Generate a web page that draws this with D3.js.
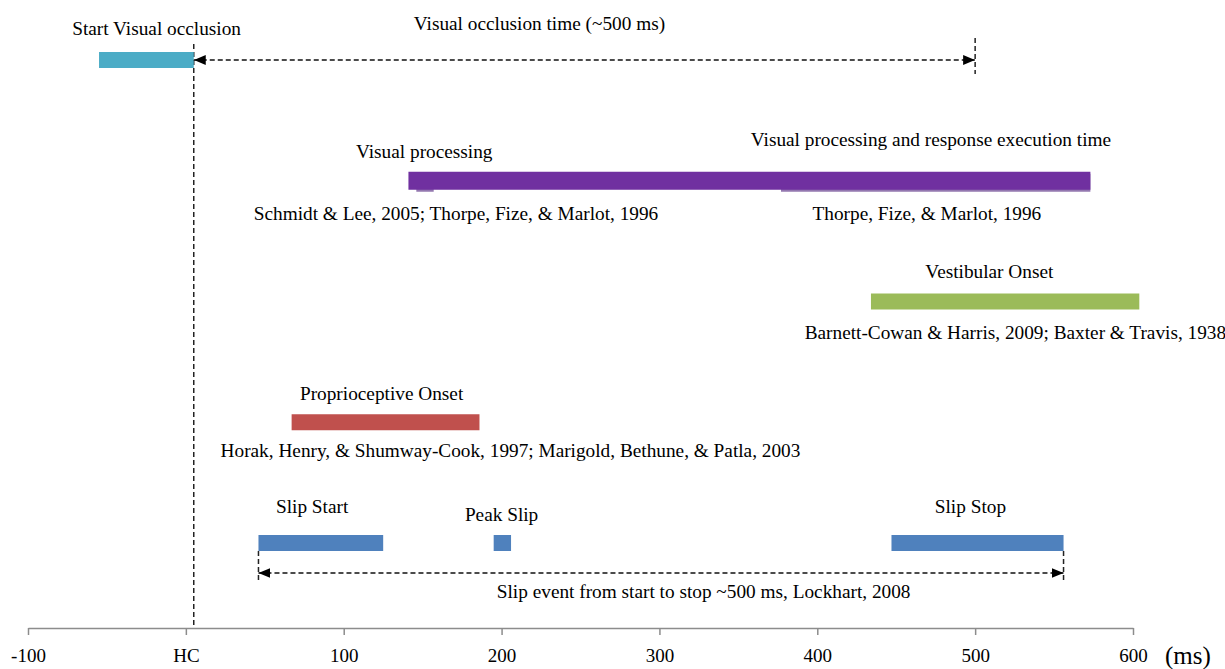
<!DOCTYPE html>
<html>
<head>
<meta charset="utf-8">
<script src="https://cdn.jsdelivr.net/npm/d3@7"></script>
<style>
  body { margin: 0; background: #fff; }
  svg { display: block; }
  svg text { font-family: "Liberation Serif", "Times New Roman", serif; }
</style>
</head>
<body>
<svg id="chart" width="1225" height="669"></svg>
<script>
// rows of the timeline, top to bottom
const rows = ["occlusion", "visual", "vestibular", "proprio", "slip"];

// bars: [row, start ms, end ms, colour key]
const bars = [
  ["occlusion", -55, 5, "cyan"],
  ["visual", 141, 573, "purple"],
  ["vestibular", 434, 604, "green"],
  ["proprio", 67, 186, "red"],
  ["slip", 46, 125, "blue"],
  ["slip", 195, 206, "blue"],
  ["slip", 447, 556, "blue"]
];
// the second (shadow) purple bar that peeks out below the first one
const shadowBars = [
  ["visual", 146, 157],
  ["visual", 377, 573]
];

// dashed double arrows: [row, from ms, to ms]
const spans = [
  ["occlusion", 5, 500],
  ["slip", 46, 556]
];

const tickValues = [-100, 0, 100, 200, 300, 400, 500, 600];
const tickLabels = ["-100", "HC", "100", "200", "300", "400", "500", "600"];

const labelTexts = [
  "Start Visual occlusion",
  "Visual occlusion time (~500 ms)",
  "Visual processing",
  "Visual processing and response execution time",
  "Schmidt & Lee, 2005; Thorpe, Fize, & Marlot, 1996",
  "Thorpe, Fize, & Marlot, 1996",
  "Vestibular Onset",
  "Barnett-Cowan & Harris, 2009; Baxter & Travis, 1938",
  "Proprioceptive Onset",
  "Horak, Henry, & Shumway-Cook, 1997; Marigold, Bethune, & Patla, 2003",
  "Slip Start",
  "Peak Slip",
  "Slip Stop",
  "Slip event from start to stop ~500 ms, Lockhart, 2008"
];

const colors = {
  cyan: "#4bacc6",
  purple: "#7030a0",
  green: "#9bbb59",
  red: "#c0504d",
  blue: "#4f81bd"
};

const svg = d3.select("#chart");
const axisY = 628;

const x = d3.scaleLinear().domain([-100, 600]).range([28, 1133]);
const y = d3.scalePoint().domain(rows).range([60, 543]);

// dashed guide lines
const dash = "5,3";
function vline(ms, y1, y2) {
  svg.append("line")
    .attr("x1", x(ms)).attr("x2", x(ms))
    .attr("y1", y1).attr("y2", y2)
    .attr("stroke", "#222").attr("stroke-width", 1.5)
    .attr("stroke-dasharray", dash);
}
vline(5, 44, axisY - 2);
vline(500, 38, 74);
vline(46, y("slip") + 8, 582);
vline(556, y("slip") + 8, 582);

// shadow bars
svg.selectAll(".shadow")
  .data(shadowBars).join("rect")
  .attr("class", "shadow")
  .attr("x", d => x(d[1]))
  .attr("width", d => x(d[2]) - x(d[1]))
  .attr("y", d => y(d[0]) - 7)
  .attr("height", 18)
  .attr("fill", "#9478b0");

// bars
svg.selectAll(".bar")
  .data(bars).join("rect")
  .attr("class", "bar")
  .attr("x", d => x(d[1]))
  .attr("width", d => x(d[2]) - x(d[1]))
  .attr("y", d => y(d[0]) - (d[0] === "visual" ? 9 : 8))
  .attr("height", d => d[0] === "visual" ? 18 : 16)
  .attr("fill", d => colors[d[3]]);

// arrows
const defs = svg.append("defs");
["start", "end"].forEach(k => {
  defs.append("marker")
    .attr("id", "arrow-" + k)
    .attr("markerUnits", "userSpaceOnUse")
    .attr("viewBox", "0 0 12 12")
    .attr("refX", k === "end" ? 12 : 0).attr("refY", 6)
    .attr("markerWidth", 12).attr("markerHeight", 12)
    .attr("orient", "auto")
    .append("path")
    .attr("d", k === "end" ? "M0,1L12,6L0,11Z" : "M12,1L0,6L12,11Z")
    .attr("fill", "#000");
});
const spanY = { occlusion: y("occlusion"), slip: 573 };
svg.selectAll(".span")
  .data(spans).join("line")
  .attr("class", "span")
  .attr("x1", d => x(d[1])).attr("x2", d => x(d[2]))
  .attr("y1", d => spanY[d[0]]).attr("y2", d => spanY[d[0]])
  .attr("stroke", "#111").attr("stroke-width", 1.6)
  .attr("stroke-dasharray", dash)
  .attr("marker-start", "url(#arrow-start)")
  .attr("marker-end", "url(#arrow-end)");

// axis
const axis = d3.axisBottom(x)
  .tickValues(tickValues)
  .tickFormat((d, i) => tickLabels[i])
  .tickSize(7)
  .tickSizeOuter(0)
  .tickPadding(14);
const gAxis = svg.append("g")
  .attr("transform", `translate(0,${axisY})`)
  .call(axis)
  .attr("font-family", null)
  .attr("font-size", null);
gAxis.select(".domain").attr("stroke", "#8c8c8c").attr("stroke-width", 1.5);
gAxis.selectAll(".tick line").attr("stroke", "#8c8c8c").attr("stroke-width", 1.5);
gAxis.selectAll(".tick text")
  .style("font-size", "19px")
  .attr("fill", "#000");

svg.append("text")
  .attr("x", x(600) + 32).attr("y", 664)
  .style("font-size", "25px")
  .text("(ms)");

// label placement: [ms position, anchor, baseline y]
const labelPos = [
  [-72, "start", 35],
  [224, "middle", 30],
  [151, "middle", 158],
  [472, "middle", 146],
  [43, "start", 220],
  [397, "start", 220],
  [509, "middle", 278],
  [392, "start", 339],
  [124, "middle", 400],
  [22, "start", 457],
  [80, "middle", 513],
  [200, "middle", 521],
  [497, "middle", 513],
  [328, "middle", 598]
];
svg.selectAll(".lbl")
  .data(labelTexts).join("text")
  .attr("class", "lbl")
  .attr("x", (d, i) => x(labelPos[i][0]))
  .attr("y", (d, i) => labelPos[i][2])
  .attr("text-anchor", (d, i) => labelPos[i][1])
  .style("font-size", "19.3px")
  .attr("fill", "#000")
  .text(d => d);
</script>
</body>
</html>
